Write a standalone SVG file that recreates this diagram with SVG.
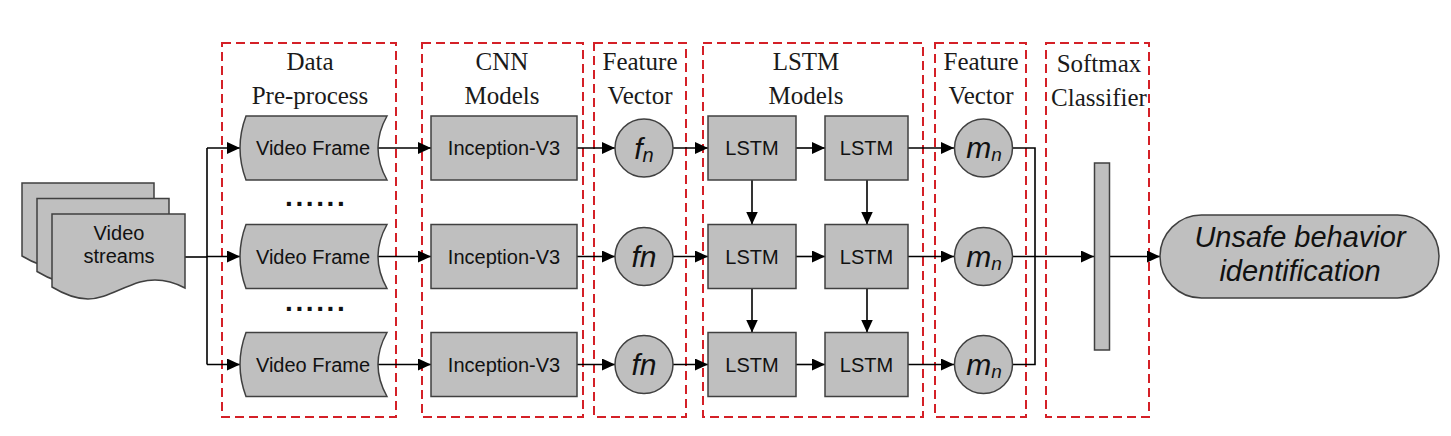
<svg xmlns="http://www.w3.org/2000/svg" width="1451" height="436" viewBox="0 0 1451 436">
<defs>
<marker id="ah" markerUnits="userSpaceOnUse" markerWidth="14" markerHeight="12" refX="13" refY="6" orient="auto">
<path d="M0,0 L13,6 L0,12 z" fill="#000"/>
</marker>
<style>
.frame{fill:none;stroke:#d42027;stroke-width:2;stroke-dasharray:9,5}
.title{font-family:"Liberation Serif","Times New Roman",serif;font-size:25px;fill:#1a1a1a;text-anchor:middle}
.shape{fill:#bfbfbf;stroke:#404040;stroke-width:1.5}
.lbl{font-family:"Liberation Sans",Arial,sans-serif;font-size:20px;fill:#111;text-anchor:middle}
.var{font-family:"Liberation Sans",Arial,sans-serif;font-style:italic;font-size:30px;fill:#111;text-anchor:middle}
.big{font-family:"Liberation Sans",Arial,sans-serif;font-style:italic;font-size:29px;fill:#111;text-anchor:middle}
.dots{font-family:"Liberation Sans",Arial,sans-serif;font-weight:bold;font-size:28px;fill:#111;letter-spacing:2.6px}
.c{fill:none;stroke:#000;stroke-width:1.6}
.a{fill:none;stroke:#000;stroke-width:1.6;marker-end:url(#ah)}
</style>
</defs>
<rect width="1451" height="436" fill="#fff"/>

<g id="frames">
<rect class="frame" x="222" y="43" width="174" height="374"/>
<rect class="frame" x="422" y="43" width="161" height="374"/>
<rect class="frame" x="594" y="43" width="92" height="374"/>
<rect class="frame" x="703" y="43" width="220" height="374"/>
<rect class="frame" x="935" y="43" width="91" height="374"/>
<rect class="frame" x="1046" y="43" width="103" height="374"/>
<text class="title" x="310" y="70">Data</text>
<text class="title" x="310" y="104">Pre-process</text>
<text class="title" x="502" y="70">CNN</text>
<text class="title" x="502" y="104">Models</text>
<text class="title" x="640" y="70">Feature</text>
<text class="title" x="640" y="104">Vector</text>
<text class="title" x="806" y="70">LSTM</text>
<text class="title" x="806" y="104">Models</text>
<text class="title" x="981" y="70">Feature</text>
<text class="title" x="981" y="104">Vector</text>
<text class="title" x="1099" y="72">Softmax</text>
<text class="title" x="1099" y="106">Classifier</text>
</g>

<g id="connectors">
<polyline class="c" points="185,257 207,257"/>
<polyline class="c" points="207,148 207,364.5"/>
<polyline class="a" points="207,148 240,148"/>
<polyline class="a" points="207,256.5 240,256.5"/>
<polyline class="a" points="207,364.5 240,364.5"/>
<polyline class="a" points="378,148 431,148"/>
<polyline class="a" points="378,256.5 431,256.5"/>
<polyline class="a" points="378,364.5 431,364.5"/>
<polyline class="a" points="577,148 615,148"/>
<polyline class="a" points="577,256.5 615,256.5"/>
<polyline class="a" points="577,364.5 615,364.5"/>
<polyline class="a" points="673,148 708,148"/>
<polyline class="a" points="673,256.5 708,256.5"/>
<polyline class="a" points="673,364.5 708,364.5"/>
<polyline class="a" points="796,148 825,148"/>
<polyline class="a" points="796,256.5 825,256.5"/>
<polyline class="a" points="796,364.5 825,364.5"/>
<polyline class="a" points="752,180 752,224.5"/>
<polyline class="a" points="752,288.5 752,332.5"/>
<polyline class="a" points="867,180 867,224.5"/>
<polyline class="a" points="867,288.5 867,332.5"/>
<polyline class="a" points="908,148 954,148"/>
<polyline class="a" points="908,256.5 954,256.5"/>
<polyline class="a" points="908,364.5 954,364.5"/>
<polyline class="c" points="1013,148 1035,148 1035,364.5 1013,364.5"/>
<polyline class="a" points="1013,256.5 1094,256.5"/>
<polyline class="a" points="1109,256.5 1160,256.5"/>
</g>

<g id="video-streams">
<path class="shape" d="M22,183 H154 V257 C139,249 124,247 110,251 C90,257 75,268 58,268 C44,268 32,262 22,256 Z"/>
<path class="shape" d="M37,198.5 H169 V272.5 C154,264.5 139,262.5 125,266.5 C105,272.5 90,283.5 73,283.5 C59,283.5 47,277.5 37,271.5 Z"/>
<path class="shape" d="M52,214 H185 V288 C170,280 155,278 140,282 C120,288 105,299 88,299 C74,299 62,293 52,287 Z"/>
<text class="lbl" x="119" y="240">Video</text>
<text class="lbl" x="119" y="263">streams</text>
</g>

<g id="video-frame-1">
<path class="shape" d="M246,116 H387 Q369,148 387,180 H246 Q234,148 246,116 Z"/>
<text class="lbl" x="313" y="155">Video Frame</text>
</g>
<g id="video-frame-2">
<path class="shape" d="M246,224.5 H387 Q369,256.5 387,288.5 H246 Q234,256.5 246,224.5 Z"/>
<text class="lbl" x="313" y="263.5">Video Frame</text>
</g>
<g id="video-frame-3">
<path class="shape" d="M246,332.5 H387 Q369,364.5 387,396.5 H246 Q234,364.5 246,332.5 Z"/>
<text class="lbl" x="313" y="371.5">Video Frame</text>
</g>
<g id="dots">
<text class="dots" x="285" y="206">......</text>
<text class="dots" x="285" y="311">......</text>
</g>

<g id="inception-1"><rect class="shape" x="431" y="116" width="146" height="64"/><text class="lbl" x="504" y="155">Inception-V3</text></g>
<g id="inception-2"><rect class="shape" x="431" y="224.5" width="146" height="64"/><text class="lbl" x="504" y="263.5">Inception-V3</text></g>
<g id="inception-3"><rect class="shape" x="431" y="332.5" width="146" height="64"/><text class="lbl" x="504" y="371.5">Inception-V3</text></g>

<g id="f-1"><circle class="shape" cx="644" cy="148" r="29"/><text class="var" x="644" y="159">f<tspan font-size="20" dy="3">n</tspan></text></g>
<g id="f-2"><circle class="shape" cx="644" cy="256.5" r="29"/><text class="var" x="644" y="266.5">fn</text></g>
<g id="f-3"><circle class="shape" cx="644" cy="364.5" r="29"/><text class="var" x="644" y="374.5">fn</text></g>

<g id="lstm-1-1"><rect class="shape" x="708" y="116" width="88" height="64"/><text class="lbl" x="752" y="155">LSTM</text></g>
<g id="lstm-1-2"><rect class="shape" x="825" y="116" width="83" height="64"/><text class="lbl" x="866.5" y="155">LSTM</text></g>
<g id="lstm-2-1"><rect class="shape" x="708" y="224.5" width="88" height="64"/><text class="lbl" x="752" y="263.5">LSTM</text></g>
<g id="lstm-2-2"><rect class="shape" x="825" y="224.5" width="83" height="64"/><text class="lbl" x="866.5" y="263.5">LSTM</text></g>
<g id="lstm-3-1"><rect class="shape" x="708" y="332.5" width="88" height="64"/><text class="lbl" x="752" y="371.5">LSTM</text></g>
<g id="lstm-3-2"><rect class="shape" x="825" y="332.5" width="83" height="64"/><text class="lbl" x="866.5" y="371.5">LSTM</text></g>

<g id="m-1"><circle class="shape" cx="983.5" cy="148" r="29"/><text class="var" x="984" y="158">m<tspan font-size="19" dy="3">n</tspan></text></g>
<g id="m-2"><circle class="shape" cx="983.5" cy="256.5" r="29"/><text class="var" x="984" y="266.5">m<tspan font-size="19" dy="3">n</tspan></text></g>
<g id="m-3"><circle class="shape" cx="983.5" cy="364.5" r="29"/><text class="var" x="984" y="374.5">m<tspan font-size="19" dy="3">n</tspan></text></g>

<g id="softmax"><rect class="shape" x="1094.5" y="163" width="15" height="187"/></g>

<g id="output">
<rect class="shape" x="1160" y="215" width="279" height="83" rx="41.5" ry="41.5"/>
<text class="big" x="1300" y="247">Unsafe behavior</text>
<text class="big" x="1300" y="281">identification</text>
</g>
</svg>
